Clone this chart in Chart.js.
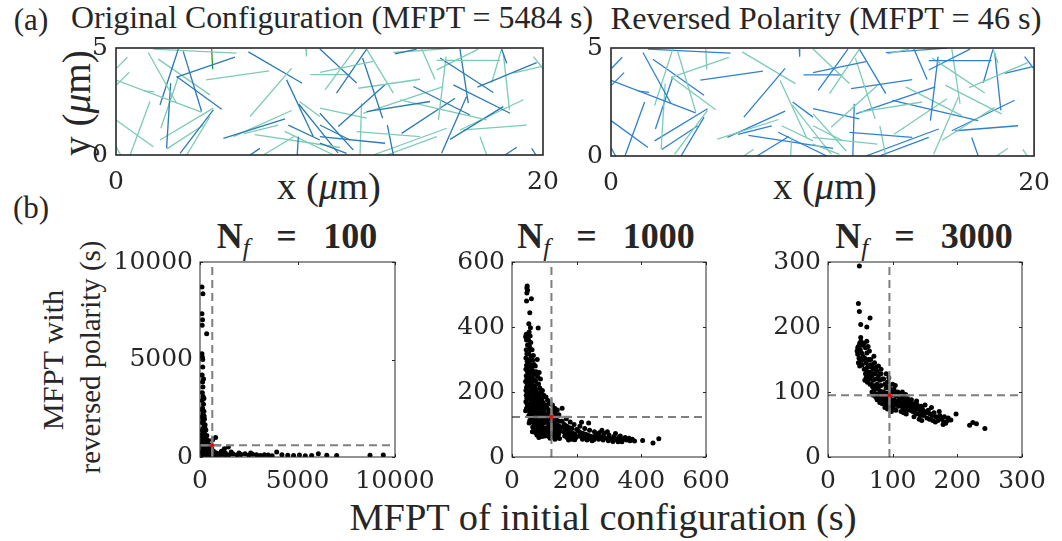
<!DOCTYPE html>
<html>
<head>
<meta charset="utf-8">
<script src="https://cdn.jsdelivr.net/npm/chart.js@4.4.1/dist/chart.umd.min.js"></script>
<style>
  body { margin: 0; width: 1062px; height: 541px; background: #fff; overflow: hidden; position: relative;
         font-family: "Liberation Serif", serif; color: #262626; }
  canvas { position: absolute; left: 0; top: 0; }
  .t { position: absolute; white-space: nowrap; line-height: 1; transform: translate(-50%, -50%); }
  .r { transform: translate(-50%, -50%) rotate(-90deg); }
  .nf { font-weight: bold; font-size: 36px; }
  sub { font-size: 0.7em; font-weight: normal; font-style: italic; vertical-align: -0.3em; line-height: 0; }
</style>
</head>
<body>

<div class="t" style="left:31px;top:19px;font-size:31px">(a)</div>
<div class="t" data-w="522" style="left:332px;top:18px">Original Configuration (MFPT = 5484 s)</div>
<div class="t" data-w="431" style="left:826px;top:18px">Reversed Polarity (MFPT = 46 s)</div>
<div class="t r" data-w="106" style="left:77px;top:103px">y (<i>μ</i>m)</div>
<div class="t" data-w="104" style="left:329px;top:186px">x (<i>μ</i>m)</div>
<div class="t" data-w="104" style="left:825px;top:186px">x (<i>μ</i>m)</div>
<div class="t" style="left:31px;top:207px;font-size:31px">(b)</div>
<div class="t nf" data-ws="161" style="left:297px;top:236px">N<sub>f</sub> = 100</div>
<div class="t nf" data-ws="178" style="left:606px;top:236px">N<sub>f</sub> = 1000</div>
<div class="t nf" data-ws="178" style="left:924px;top:236px">N<sub>f</sub> = 3000</div>
<div class="t r" data-w="140" style="left:53px;top:360px">MFPT with</div>
<div class="t r" data-w="233" style="left:90px;top:357px">reversed polarity (s)</div>
<div class="t" data-w="507" style="left:603px;top:517px">MFPT of initial configuration (s)</div>

<canvas id="topL" width="1062" height="541"></canvas>
<canvas id="topR" width="1062" height="541"></canvas>
<canvas id="b100" width="1062" height="541"></canvas>
<canvas id="b1000" width="1062" height="541"></canvas>
<canvas id="b3000" width="1062" height="541"></canvas>

<script>
// filaments: x1, y1, x2, y2 in um
const fil = [
  [0.03,4.06,0.53,4.57],[0.03,3.28,0.62,3.86],[0,3.5,4.0,2.0],[1.51,4.79,2.84,2.42],
  [2.92,4.95,2.06,2.34],[3.15,4.84,4.01,2.03],[2.56,3.36,2.37,0.31],[2.84,3.67,4.95,2.14],
  [2.84,3.64,5.57,4.57],[4.22,3.51,7.18,3.93],[1.75,4.95,5.65,4.76],[4.48,4.95,4.53,4.01],
  [1.98,4.48,4.4,2.81],[0,1.64,1.75,0.39],[0.66,0,1.59,2.5],[2.06,0.7,4.56,2.19],
  [3.0,0.08,4.56,2.11],[2.1,1.25,2.9,3.6],[6.28,1.8,8.23,4.06],[5.03,0.78,7.92,1.69],
  [5.5,0.86,8.23,2.08],[8.54,0.86,8.49,0],[8.07,1.4,9.55,0.7],[6.28,0,6.74,0.31],
  [3.31,0,4.4,1.8],[0,0.39,0.22,0],[2.4,0.3,4.1,1.4],[9.55,3.86,12.05,4.37],
  [9.79,3.04,11.2,4.95],[10.33,2.89,11.74,4.95],[11.55,4.53,12.49,1.72],[11.74,4.95,12.99,2.89],
  [11.35,3.12,14.24,3.54],[13.07,4.73,14.08,4.95],[12.99,4.79,15.88,4.99],[14.32,4.95,14.94,3.54],
  [15.02,4.42,17.99,4.42],[15.18,4.53,17.67,2.92],[15.02,3.98,16.97,4.95],[16.11,4.95,16.5,2.42],
  [15.46,4.6,15.1,1.64],[16.42,2.73,15.25,0.08],[15.8,3.28,18.46,1.95],[16.93,3.17,19.7,4.32],
  [18.61,3.83,19.94,4.14],[19.55,4.6,19.98,4.06],[18.06,4.95,18.3,4.29],[18.06,4.95,17.6,3.39],
  [18.14,4.76,18.43,2.11],[11.74,2.03,14.71,2.5],[13.93,3.2,16.58,1.87],[15.33,3.2,11.58,1.95],
  [13.3,2.58,17.36,1.64],[10.41,1.33,12.6,3.28],[9.55,2.19,11.74,1.72],[9.55,1.95,11.12,0.23],
  [9.55,1.4,10.96,0.7],[9.55,0.86,12.6,0.55],[9.55,0.55,10.8,0.08],[11.27,1.09,14.24,0.86],
  [12.71,1.4,12.99,0],[11.5,2.42,11.43,0],[12.05,0,15.49,1.25],[13.38,1.01,15.88,2.65],
  [15.65,0.73,18.14,2.26],[16.27,1.17,19.24,1.4],[17.05,0.86,17.36,0],[16.11,1.17,19.08,2.58],
  [18.22,0,18.77,0.36],[19.47,0.31,19.67,0],[9.55,4.95,11.27,3.36],[6.2,4.82,8.72,3.35],
  [6.5,0.95,10.5,0.35],[7.9,1.1,10.2,0],[8.57,2.37,10.4,0.1],[8.9,4.95,8.92,4.6],
  [1.3,3.0,1.8,2.95],[7.99,3.51,9.24,0.86],[8.59,2.5,9.55,1.8],[6.0,1.0,7.6,1.4],
  [6.9,0,8.4,0.9],[9.1,3.76,10.9,3.76],[12.68,0,15.02,0.86]
];
// 0 = teal, 1 = blue, 2 = green, original configuration
const filKind = [
  0,0,0,0, 1,1,1,1, 1,0,0,2, 0,0,0,0, 1,0,0,1, 0,1,1,1, 0,0,0,0,
  0,1,1,0, 0,1,0,0, 0,1,0,1, 0,1,1,1, 0,0,1,0, 0,1,1,0, 0,1,0,1,
  1,1,1,0, 1,0,0,1, 1,0,0,0, 1,1,1,1, 0,0,1,0, 0,1,0,0, 0,0,0,1,
  0,1,0,0, 0,0,0,0, 0
];
const tickTop = { x: [0, 20], y: [0, 5] };

// scatter: [MFPT initial, MFPT reversed] in s
const nf100 = [
  [100,8718],[150,8376],[100,7350],[130,7043],[110,6752],[342,6325],[100,5300],[120,5128],
  [140,4615],[180,4000],[110,4200],[140,5000],[130,3846],[150,3590],[120,3300],[160,3100],
  [200,3000],[110,2900],[180,2700],[130,2500],[200,2350],[150,2200],[110,2050],[230,1950],
  [170,1850],[120,1750],[260,1650],[200,1550],[140,1450],[300,1380],[230,1300],[160,1220],
  [110,1150],[350,1100],[270,1030],[190,960],[130,900],[420,850],[320,800],[240,750],
  [170,700],[110,650],[500,620],[380,580],[290,540],[210,500],[140,460],[600,440],
  [450,400],[340,370],[250,340],[170,310],[110,280],[700,300],[520,270],[400,250],
  [300,230],[200,210],[130,190],[850,200],[650,180],[480,170],[360,150],[260,130],
  [170,120],[100,100],[1000,160],[780,140],[580,120],[420,110],[300,90],[200,80],
  [1200,130],[950,110],[700,95],[500,80],[350,70],[1453,513],[1100,300],[1300,200],
  [1500,120],[1700,150],[1900,100],[2100,130],[2308,171],[2500,90],[2700,140],[2900,110],
  [3100,80],[3300,120],[3500,100],[3700,70],[3932,256],[4200,110],[4500,90],[4800,80],
  [5100,100],[5400,70],[5726,80],[6068,171],[6500,90],[7009,80],[8718,90],[9400,100],
  [1600,260],[2000,200],[2600,200],[1250,420],[800,1000],[650,880],
  [120,2400],[210,2100],[140,1900],[250,1500],[120,1350],[200,1150],[300,1000],[110,1050],
  [260,880],[180,820],[380,700],[300,650],[450,500],[550,350],[250,420],[360,470],
  [620,260],[750,220],[900,150],[1100,200],[1350,90],[160,560],[420,300],[300,330],
  [800,80],[600,60],[450,60],[1000,80],[230,600],[130,780]
];
const nf1000 = [
  [47,526],[46,520],[48,513],[46,505],[45,480],[44,378],[42,370],[45,360],[48,345],[44,330],
  [46,318],[43,305],[47,295],[45,282],[43,270],[48,262],[44,250],[46,240],[42,232],[47,225],
  [45,215],[43,205],[48,198],[44,190],[46,180],[43,170],[47,162],[45,150],[42,142],
  [55,444],[52,410],[57,398],[60,487],[53,385],[56,372],[51,360],[58,352],[54,340],[57,330],
  [52,318],[59,310],[55,300],[51,292],[57,285],[53,275],[59,268],[55,258],[51,250],[58,242],
  [54,235],[56,226],[52,218],[59,210],[55,202],[51,195],[57,188],[53,180],[59,172],[55,165],
  [52,158],[58,150],[54,142],[56,135],[52,128],[59,120],[55,112],[53,105],
  [62,330],[66,312],[64,298],[68,285],[61,276],[65,265],[69,255],[63,246],[67,238],[61,228],
  [65,220],[69,212],[63,204],[67,196],[62,188],[66,180],[70,172],[64,165],[68,157],[62,150],
  [66,142],[70,135],[64,128],[68,120],[62,113],[66,106],[70,98],[64,92],[68,85],[63,78],
  [78,300],[72,280],[75,262],[79,248],[73,235],[77,225],[71,215],[75,205],[79,196],[73,188],
  [77,180],[71,172],[75,164],[79,156],[73,148],[77,140],[71,132],[75,125],[79,118],[73,110],
  [77,103],[71,96],[75,88],[79,82],[73,75],[77,68],
  [81,397],[84,260],[88,240],[82,225],[86,212],[90,200],[84,190],[88,180],[82,170],[86,162],
  [90,154],[84,146],[88,138],[82,130],[86,122],[90,115],[84,108],[88,100],[82,93],[86,86],
  [90,79],[84,72],[88,66],[83,60],
  [94,205],[98,190],[92,178],[96,168],[100,158],[94,150],[98,142],[92,134],[96,126],[100,118],
  [94,111],[98,104],[92,97],[96,90],[100,83],[94,76],[98,70],[93,63],
  [105,185],[110,175],[115,165],[103,160],[108,152],[113,145],[118,138],[106,132],[111,125],[116,118],
  [104,112],[109,106],[114,100],[119,95],[107,90],[112,84],[117,78],[105,72],[110,67],[115,62],
  [118,58],[102,65],
  [125,160],[132,150],[140,145],[128,140],[135,133],[143,128],[122,125],[130,120],[138,115],[146,110],
  [124,108],[132,103],[140,98],[148,94],[126,92],[134,88],[142,84],[150,80],[128,78],[136,74],
  [144,70],[123,68],[131,64],[139,60],[147,57],[133,55],[145,130],[155,150],
  [155,110],[162,100],[170,95],[178,90],[185,88],[158,92],[165,85],[172,80],[180,76],[188,73],
  [195,70],[160,78],[167,72],[175,68],[183,65],[190,62],[198,60],[163,65],[170,60],[178,57],
  [186,55],[194,53],[168,118],[180,108],[192,100],[200,85],[175,52],
  [205,80],[212,75],[220,72],[228,70],[235,67],[242,64],[250,62],[258,60],[208,65],[215,62],
  [222,60],[230,58],[238,56],[246,55],[254,54],[210,95],[225,88],[240,82],[255,78],[218,55],
  [232,52],[248,50],[260,70],[215,107],[237,105],
  [265,65],[275,62],[285,60],[295,58],[305,56],[315,55],[325,53],[335,52],[270,75],[285,72],
  [300,68],[315,63],[330,60],[268,55],[282,52],[298,50],[312,48],[328,47],[278,82],[295,78],
  [320,72],[335,65],
  [345,55],[355,52],[365,50],[379,49],[404,51],[436,43],[454,56],[350,60],[362,58],[372,55],[340,47]
];
const nf3000 = [
  [48.5,294],[47,236],[48.5,224],[65,214],[50.6,204],[60,200],[50.6,184],
  [45,163],[47,170],[49,175],[51,178],[53,172],[46,158],[48,152],[50,165],[52,160],[54,155],
  [47,145],[49,140],[51,148],[53,142],[55,150],[46,168],
  [56,175],[58,168],[60,160],[62,170],[64,163],[57,152],[59,145],[61,138],[63,150],[65,142],
  [56,135],[58,128],[60,132],[62,125],[64,130],[57,118],[59,122],[61,115],[63,120],[65,112],
  [60,178],[64,150],
  [66,150],[68,142],[70,135],[72,145],[74,138],[66,130],[68,125],[70,118],[72,128],[74,120],
  [67,112],[69,108],[71,102],[73,110],[75,105],[66,120],[68,100],[70,95],[72,98],[74,92],
  [67,138],[71,155],
  [76,132],[78,125],[80,118],[82,128],[84,120],[76,112],[78,108],[80,102],[82,110],[84,100],
  [77,96],[79,92],[81,88],[83,95],[85,90],[76,88],[80,84],[84,82],[78,140],[82,135],
  [86,120],[88,112],[90,106],[92,115],[94,108],[86,100],[88,96],[90,92],[92,98],[94,90],
  [87,88],[89,84],[91,80],[93,86],[95,82],[88,76],[92,74],[90,128],[94,122],
  [96,105],[98,100],[100,96],[102,104],[104,98],[106,94],[108,100],[96,90],[98,86],[100,82],
  [102,88],[104,84],[106,80],[108,86],[97,78],[101,75],[105,72],[109,78],[100,112],[104,110],
  [98,70],[110,92],
  [111,95],[113,90],[115,86],[117,92],[119,88],[121,84],[123,90],[112,82],[114,78],[116,74],
  [118,80],[120,76],[122,72],[124,78],[113,70],[117,68],[121,66],[125,85],[115,100],[120,96],
  [126,84],[128,80],[130,76],[132,82],[134,78],[136,74],[138,80],[140,76],[142,72],[144,78],
  [127,72],[131,70],[135,68],[139,66],[143,64],[129,88],[137,86],[145,70],[133,62],[141,58],
  [146,74],[149,70],[152,68],[155,72],[158,66],[161,64],[164,68],[167,62],[170,60],[173,64],
  [148,64],[153,60],[157,58],[162,56],[166,54],[170,56],[150,80],[160,76],[172,70],[145,56],
  [176,58],[179,54],[182,52],[185,56],[178,50],[190,57],[198,66],[219,49],[224,53],[229.5,51],
  [242.6,44],[180,62],[186,60]
];
// mean point and spread bars [from, to]
const mean100 = [630, 600], spreadX100 = [0, 1100], spreadY100 = [0, 1100];
const mean1000 = [122, 123], spreadX1000 = [65, 180], spreadY1000 = [65, 180];
const mean3000 = [95, 95], spreadX3000 = [60, 128], spreadY3000 = [60, 125];
const ticks100 = [0, 5000, 10000], ticks1000 = [0, 200, 400, 600], ticks3000 = [0, 100, 200, 300];

// ---- text fitting
document.querySelectorAll('.t[data-w]').forEach(el => {
  el.style.fontSize = '20px';
  const w = el.offsetWidth;
  el.style.fontSize = (20 * el.dataset.w / w).toFixed(2) + 'px';
});
document.querySelectorAll('.t[data-ws]').forEach(el => {
  const w = el.offsetWidth;
  el.style.wordSpacing = Math.max(0, (el.dataset.ws - w) / 2).toFixed(1) + 'px';
});

const W = 1062, H = 541;
const ink = '#262626';
const tickFont = { family: '"DejaVu Serif", serif', size: 25 };

const frame = {
  id: 'frame',
  afterDatasetsDraw(chart, args, o) {
    const { ctx, chartArea: a, scales: { x, y } } = chart;
    ctx.save();
    ctx.strokeStyle = ink;
    ctx.lineWidth = o.width;
    ctx.strokeRect(a.left, a.top, a.right - a.left, a.bottom - a.top);
    if (o.len) {
      ctx.lineWidth = 1;
      ctx.beginPath();
      x.ticks.forEach(t => {
        const p = Math.round(x.getPixelForValue(t.value)) + 0.5;
        ctx.moveTo(p, a.bottom); ctx.lineTo(p, a.bottom - o.len);
        ctx.moveTo(p, a.top); ctx.lineTo(p, a.top + o.len);
      });
      y.ticks.forEach(t => {
        const p = Math.round(y.getPixelForValue(t.value)) + 0.5;
        ctx.moveTo(a.left, p); ctx.lineTo(a.left + o.len, p);
        ctx.moveTo(a.right, p); ctx.lineTo(a.right - o.len, p);
      });
      ctx.stroke();
    }
    ctx.restore();
  }
};

function axis(min, max, values, pad, fit, size) {
  return {
    type: 'linear', min, max,
    afterBuildTicks: s => { s.ticks = values.map(v => ({ value: v })); },
    ticks: { font: tickFont, color: ink, padding: pad, maxRotation: 0, autoSkip: false, callback: v => String(v) },
    grid: { display: false, drawTicks: false },
    border: { display: false },
    afterFit: s => { if (fit === 'w') s.width = size; else s.height = size; }
  };
}

function options(area, xmax, ymax, xt, yt, o) {
  return {
    responsive: false, animation: false, events: [],
    layout: { padding: { left: area[0] - o.yw, top: area[1], right: W - area[2], bottom: H - area[3] - o.xh } },
    plugins: { legend: { display: false }, tooltip: { enabled: false }, frame: { width: o.bw, len: o.len } },
    scales: {
      x: axis(0, xmax, xt, o.xp, 'h', o.xh),
      y: axis(0, ymax, yt, o.yp, 'w', o.yw)
    }
  };
}

function filamentPanel(id, area, palette, flip) {
  const sets = fil.map((s, i) => {
    let k = filKind[i];
    if (flip) k = k === 1 ? 0 : (k === 0 ? 1 : 0);
    return {
      data: [{ x: s[0], y: s[1] }, { x: s[2], y: s[3] }],
      showLine: true, pointRadius: 0, borderWidth: 1.3, borderColor: palette[k]
    };
  });
  new Chart(document.getElementById(id), {
    type: 'scatter',
    data: { datasets: sets },
    options: options(area, 20, 5, tickTop.x, tickTop.y, { yw: 40, xh: 45, xp: 12, yp: 8, bw: 1.6, len: 0 }),
    plugins: [frame]
  });
}

function scatterPanel(id, area, pts, mean, sx, sy, max, tk) {
  const gray = '#7f7f7f';
  const line = (a, b, extra) => Object.assign({
    data: [a, b], showLine: true, pointRadius: 0, borderColor: gray, borderWidth: 2
  }, extra);
  new Chart(document.getElementById(id), {
    type: 'scatter',
    data: {
      datasets: [
        { data: [{ x: mean[0], y: mean[1] }], pointRadius: 2, backgroundColor: '#ff0000', borderWidth: 0, order: 0 },
        line({ x: mean[0], y: 0 }, { x: mean[0], y: max }, { borderDash: [8, 5], order: 1 }),
        line({ x: 0, y: mean[1] }, { x: max, y: mean[1] }, { borderDash: [8, 5], order: 1 }),
        line({ x: sx[0], y: mean[1] }, { x: sx[1], y: mean[1] }, { borderWidth: 2.5, borderColor: 'rgba(128,128,128,0.85)', order: 2 }),
        line({ x: mean[0], y: sy[0] }, { x: mean[0], y: sy[1] }, { borderWidth: 2.5, borderColor: 'rgba(128,128,128,0.85)', order: 2 }),
        { data: pts.map(p => ({ x: p[0], y: p[1] })), pointRadius: 2.5, backgroundColor: '#000', borderWidth: 0, order: 3 }
      ]
    },
    options: options(area, max, max, tk, tk, { yw: 110, xh: 40, xp: 9, yp: 7, bw: 1, len: 3 }),
    plugins: [frame]
  });
}

filamentPanel('topL', [116, 48, 543, 155], ['#7ccbb7', '#2a7ab3', '#1f9a3c'], false);
filamentPanel('topR', [611, 48, 1042, 156], ['#7ccbb7', '#2f80cf'], true);
scatterPanel('b100', [200, 262, 395, 457], nf100, mean100, spreadX100, spreadY100, 10000, ticks100);
scatterPanel('b1000', [512, 262, 706, 457], nf1000, mean1000, spreadX1000, spreadY1000, 600, ticks1000);
scatterPanel('b3000', [828, 262, 1022, 457], nf3000, mean3000, spreadX3000, spreadY3000, 300, ticks3000);
</script>
</body>
</html>
